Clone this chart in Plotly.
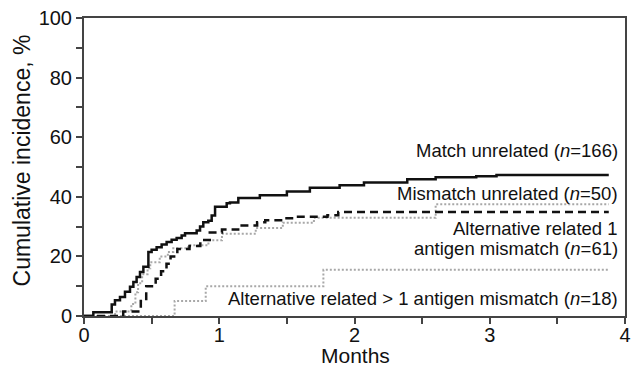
import plotly.graph_objects as go

# Months / cumulative incidence (%)
match_months = [0, 0.069, 0.205, 0.229, 0.266, 0.303, 0.340, 0.365, 0.389, 0.414, 0.439, 0.476, 0.500,
                0.537, 0.574, 0.611, 0.648, 0.685, 0.722, 0.747, 0.833, 0.858, 0.882, 0.919, 0.944,
                0.969, 1.055, 1.079, 1.141, 1.30, 1.50, 1.67, 1.89, 2.07, 2.39, 2.60, 2.90, 3.05, 3.88]
match_pct = [0, 1.3, 3.9, 5.3, 6.4, 8.1, 9.8, 11.4, 13.1, 14.8, 16.5, 21.5, 22.2,
             23.1, 24.0, 24.8, 25.6, 26.2, 27.0, 27.8, 28.7, 30.0, 31.5, 32.0, 33.7,
             36.7, 37.8, 38.1, 39.6, 40.5, 41.8, 43.0, 43.9, 44.8, 45.9, 46.6, 46.9, 47.3, 47.3]

mismatch_months = [0, 0.23, 0.35, 0.38, 0.40, 0.43, 0.47, 0.49, 0.56, 0.62, 0.66, 0.77, 0.92,
                   1.02, 1.27, 1.47, 1.70, 2.60, 3.88]
mismatch_pct = [0, 1.5, 4.0, 8.0, 11.0, 14.0, 16.0, 18.0, 20.0, 21.5, 22.7, 23.7, 25.4,
                27.6, 29.5, 31.3, 33.0, 37.5, 37.5]

alt1_months = [0, 0.29, 0.42, 0.46, 0.53, 0.57, 0.61, 0.64, 0.69, 0.78, 0.86, 0.93, 1.02,
               1.14, 1.28, 1.34, 1.48, 1.55, 1.80, 1.88, 3.88]
alt1_pct = [0, 1.5, 5.0, 10.0, 12.5, 15.0, 17.5, 20.0, 22.5, 23.5, 25.5, 28.0, 29.0,
            30.4, 31.5, 32.1, 32.8, 33.3, 33.8, 34.9, 34.9]

alt2_months = [0, 0.67, 0.90, 1.77, 3.88]
alt2_pct = [0, 5.0, 10.0, 15.5, 15.5]

x_ticks = [0, 1, 2, 3, 4]
y_ticks = [0, 20, 40, 60, 80, 100]

FONT = "Liberation Sans, Arial, sans-serif"

fig = go.Figure()
fig.add_trace(go.Scatter(x=alt2_months, y=alt2_pct, mode="lines", line_shape="hv",
                         line=dict(color="#a8a8a8", width=2, dash="2px,2px"), showlegend=False))
fig.add_trace(go.Scatter(x=mismatch_months, y=mismatch_pct, mode="lines", line_shape="hv",
                         line=dict(color="#a8a8a8", width=2, dash="2px,2px"), showlegend=False))
fig.add_trace(go.Scatter(x=alt1_months, y=alt1_pct, mode="lines", line_shape="hv",
                         line=dict(color="#111111", width=2.5, dash="8px,5px"), showlegend=False))
fig.add_trace(go.Scatter(x=match_months, y=match_pct, mode="lines", line_shape="hv",
                         line=dict(color="#111111", width=2.5), showlegend=False))

labels = [
    ("Match unrelated (<i>n</i>=166)", 55.6),
    ("Mismatch unrelated (<i>n</i>=50)", 41.2),
    ("Alternative related 1", 29.4),
    ("antigen mismatch (<i>n</i>=61)", 22.7),
    ("Alternative related > 1 antigen mismatch (<i>n</i>=18)", 5.9),
]
for txt, yv in labels:
    fig.add_annotation(text=txt, xref="paper", x=0.99, xanchor="right", yref="y", y=yv,
                       yanchor="middle", showarrow=False,
                       font=dict(family=FONT, size=18.5, color="#111"))

# axis titles
fig.add_annotation(text="Cumulative incidence, %", xref="paper", yref="paper", x=-0.1146, y=0.522,
                   xanchor="center", yanchor="middle", textangle=-90, showarrow=False,
                   font=dict(family=FONT, size=23, color="#111"))
fig.add_annotation(text="Months", xref="paper", yref="paper", x=0.501, y=-0.134,
                   xanchor="center", yanchor="middle", showarrow=False,
                   font=dict(family=FONT, size=21, color="#111"))

fig.update_xaxes(range=[0, 4], tickvals=x_ticks, ticks="outside", ticklen=6, tickwidth=1.5,
                 tickcolor="#444", showline=True, linecolor="#444", linewidth=2, mirror=True,
                 showgrid=False, zeroline=False, automargin=False, ticklabelstandoff=-6,
                 minor=dict(dtick=0.5, ticks="outside", ticklen=6, tickwidth=1.5, tickcolor="#444"),
                 tickfont=dict(family=FONT, size=20, color="#111"))
fig.update_yaxes(range=[0, 100], tickvals=y_ticks, ticks="outside", ticklen=6, tickwidth=1.5,
                 tickcolor="#444", showline=True, linecolor="#444", linewidth=2, mirror=True,
                 showgrid=False, zeroline=False, automargin=False,
                 minor=dict(dtick=10, ticks="outside", ticklen=6, tickwidth=1.5, tickcolor="#444"),
                 tickfont=dict(family=FONT, size=20, color="#111"))

fig.update_layout(width=632, height=367, margin=dict(l=84, r=7, t=18, b=51),
                  paper_bgcolor="white", plot_bgcolor="white")

fig.write_html("out.html", config={"displayModeBar": False},
               post_script="document.body.style.margin='0';document.body.style.padding='0';"
                           "document.body.style.overflow='hidden';")
